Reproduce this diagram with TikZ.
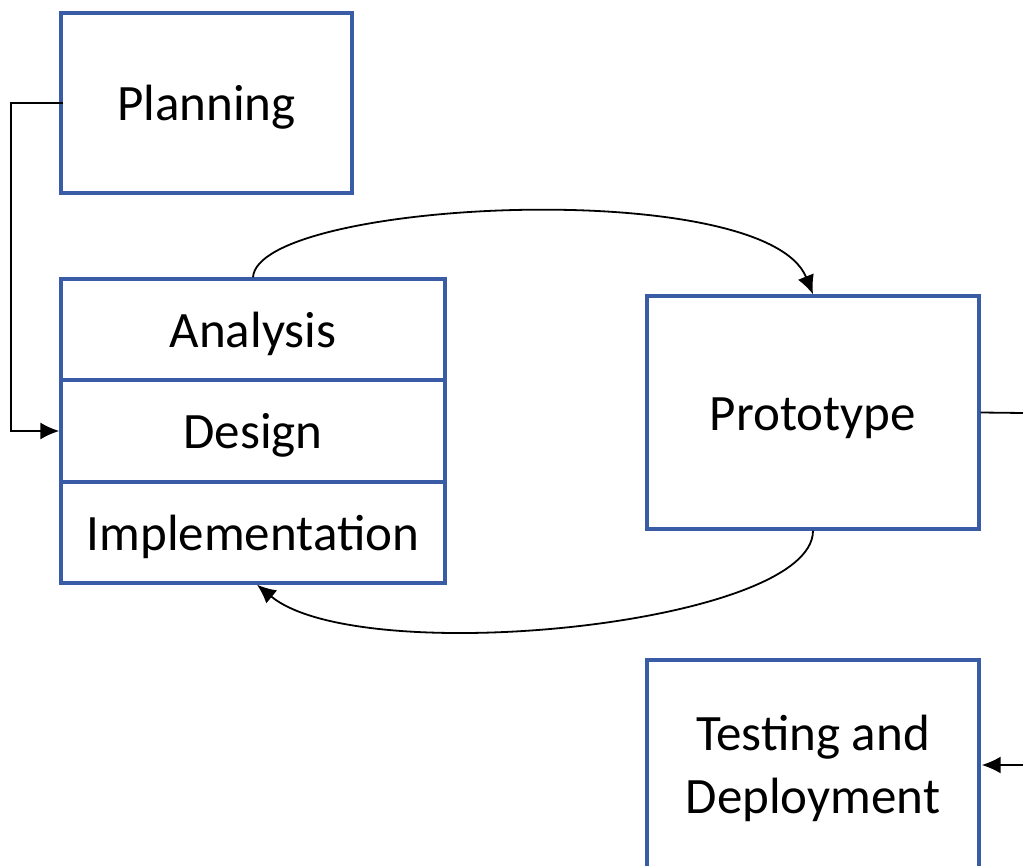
\documentclass[tikz,border=0pt]{standalone}
\usepackage{fontspec}
\setmainfont{Carlito}
\usetikzlibrary{arrows.meta}
\definecolor{boxblue}{RGB}{58,91,166}
\tikzset{
  box/.style={draw=boxblue, line width=3.4pt, fill=white, inner sep=0pt, align=center,
    font=\fontsize{51}{63}\selectfont},
  single/.style={text height=36pt, text depth=0pt},
  conn/.style={draw=black, line width=1.8pt},
  tip/.style={-{Latex[length=19pt,width=17pt]}}
}
\begin{document}
\begin{tikzpicture}[x=1pt,y=-1pt]
\useasboundingbox (0,0) rectangle (1023,866);
\clip (0,0) rectangle (1023,866);
% nodes
\node[box, single, minimum width=291pt, minimum height=180pt] (plan) at (206.5,103) {Planning};
\node[box, single, minimum width=384pt, minimum height=101pt] (ana) at (253,329.5) {Analysis};
\node[box, single, minimum width=384pt, minimum height=102pt] (des) at (253,431) {Design};
\node[box, single, minimum width=384pt, minimum height=101pt] (imp) at (253,532.5) {Implementation};
\node[box, single, minimum width=332pt, minimum height=233pt] (proto) at (813,412.5) {Prototype};
\node[box, minimum width=332pt, minimum height=216pt] (test) at (813,768) {Testing and\\Deployment};
\coordinate (rtop) at (1023,413);
\coordinate (rbot) at (1023,765);
% connectors
\draw[conn, tip] ([xshift=4pt]plan.west) -- ++(-52,0) |- (des.west);
\draw[conn, tip] (ana.north) .. controls (258,200) and (765,175) .. (proto.north);
\draw[conn, tip] (proto.south) .. controls (813,625) and (360,670) .. ([xshift=4pt]imp.south);
\draw[conn] (proto.east) -- (rtop);
\draw[conn, tip] (rbot) -- ([xshift=1pt]test.east |- rbot);
\end{tikzpicture}
\end{document}
